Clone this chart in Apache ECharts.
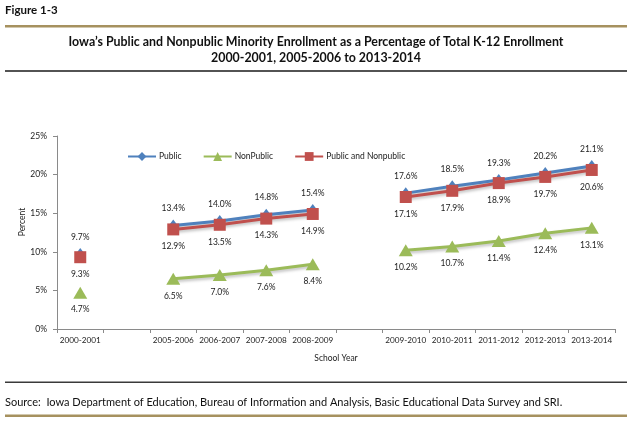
<!DOCTYPE html>
<html>
<head>
<meta charset="utf-8">
<script src="https://cdn.jsdelivr.net/npm/echarts@6/dist/echarts.min.js"></script>
<style>
html,body{margin:0;padding:0;background:#fff;}
#chart{width:630px;height:424px;}
</style>
</head>
<body>
<div id="chart"></div>
<script>
var categories = ['2000-2001', '', '2005-2006', '2006-2007', '2007-2008', '2008-2009', '', '2009-2010', '2010-2011', '2011-2012', '2012-2013', '2013-2014'];
var publicValues = [9.7, null, 13.4, 14.0, 14.8, 15.4, null, 17.6, 18.5, 19.3, 20.2, 21.1];
var nonPublicValues = [4.7, null, 6.5, 7.0, 7.6, 8.4, null, 10.2, 10.7, 11.4, 12.4, 13.1];
var combinedValues = [9.3, null, 12.9, 13.5, 14.3, 14.9, null, 17.1, 17.9, 18.9, 19.7, 20.6];
var seriesNames = ['Public', 'NonPublic', 'Public and Nonpublic'];
var yTicks = [0, 5, 10, 15, 20, 25];

var FONT = 'Lato';
var chart = echarts.init(document.getElementById('chart'));

function labelCfg(dy) {
  return {
    show: true,
    position: 'inside',
    offset: [0, dy],
    formatter: function (p) { return p.value == null ? '' : p.value.toFixed(1) + '%'; },
    color: '#222',
    fontSize: 8.5,
    fontFamily: FONT
  };
}
var shadow = {shadowColor: 'rgba(0,0,0,0.25)', shadowBlur: 3, shadowOffsetY: 2};

chart.setOption({
  animation: false,
  textStyle: {fontFamily: FONT},
  grid: {left: 57, right: 15, top: 136, bottom: 95, containLabel: false},
  legend: {
    left: 122, top: 147,
    itemWidth: 28, itemHeight: 11, itemGap: 21,
    textStyle: {fontSize: 8.5, color: '#222', fontFamily: FONT, padding: [0, 0, 0, -2]},
    data: seriesNames
  },
  xAxis: {
    type: 'category',
    data: categories,
    boundaryGap: true,
    name: 'School Year',
    nameLocation: 'middle',
    nameGap: 25,
    nameTextStyle: {fontSize: 8.5, color: '#222', fontFamily: FONT},
    axisLine: {lineStyle: {color: '#8a8a8a', width: 1}},
    axisTick: {show: true, interval: 0, length: 4, lineStyle: {color: '#8a8a8a'}},
    axisLabel: {interval: 0, fontSize: 8.2, color: '#222', margin: 7, fontFamily: FONT},
    splitLine: {show: false}
  },
  yAxis: {
    type: 'value',
    min: yTicks[0], max: yTicks[yTicks.length - 1], interval: 5,
    axisLine: {show: true, lineStyle: {color: '#8a8a8a', width: 1}},
    axisTick: {show: true, length: 4, lineStyle: {color: '#8a8a8a'}},
    axisLabel: {formatter: '{value}%', fontSize: 8.5, color: '#222', margin: 10, fontFamily: FONT},
    splitLine: {show: false}
  },
  series: [
    {
      name: seriesNames[0], type: 'line', data: publicValues,
      connectNulls: false, showSymbol: true,
      symbol: 'diamond', symbolSize: [9, 12],
      itemStyle: {color: '#4F81BD'},
      lineStyle: Object.assign({color: '#4F81BD', width: 3}, shadow),
      label: labelCfg(-17), z: 2
    },
    {
      name: seriesNames[1], type: 'line', data: nonPublicValues,
      connectNulls: false, showSymbol: true,
      symbol: 'triangle', symbolSize: [14, 12],
      itemStyle: {color: '#9BBB59'},
      lineStyle: Object.assign({color: '#9BBB59', width: 3}, shadow),
      label: labelCfg(17), z: 3
    },
    {
      name: seriesNames[2], type: 'line', data: combinedValues,
      connectNulls: false, showSymbol: true,
      symbol: 'rect', symbolSize: 12,
      itemStyle: {color: '#C0504D'},
      lineStyle: Object.assign({color: '#C0504D', width: 3}, shadow),
      label: labelCfg(17), z: 4
    }
  ],
  graphic: [
    {type: 'text', left: 5, top: 4, style: {text: 'Figure 1-3', font: 'bold 11.5px ' + FONT, fill: '#111'}},
    {type: 'rect', shape: {x: 5, y: 25, width: 622, height: 2.4}, style: {fill: '#A6915F'}},
    {type: 'text', x: 316, y: 42, style: {text: 'Iowa\u2019s Public and Nonpublic Minority Enrollment as a Percentage of Total K-12 Enrollment', font: 'bold 12.4px ' + FONT, fill: '#111', align: 'center', verticalAlign: 'middle'}},
    {type: 'text', x: 316, y: 57.5, style: {text: '2000-2001, 2005-2006 to 2013-2014', font: 'bold 12.4px ' + FONT, fill: '#111', align: 'center', verticalAlign: 'middle'}},
    {type: 'rect', shape: {x: 5, y: 70.3, width: 622, height: 1.5}, style: {fill: '#1a1a1a'}},
    {type: 'text', x: 22, y: 222, rotation: Math.PI / 2, style: {text: 'Percent', font: '8.5px ' + FONT, fill: '#222', align: 'center', verticalAlign: 'middle'}},
    {type: 'rect', shape: {x: 5, y: 381.5, width: 622, height: 1.5}, style: {fill: '#3a3a3a'}},
    {type: 'text', x: 5, y: 402, style: {text: 'Source:  Iowa Department of Education, Bureau of Information and Analysis, Basic Educational Data Survey and SRI.', font: '11px ' + FONT, fill: '#111', verticalAlign: 'middle'}},
    {type: 'rect', shape: {x: 5, y: 414.5, width: 622, height: 2.4}, style: {fill: '#A6915F'}}
  ]
});
</script>
</body>
</html>
